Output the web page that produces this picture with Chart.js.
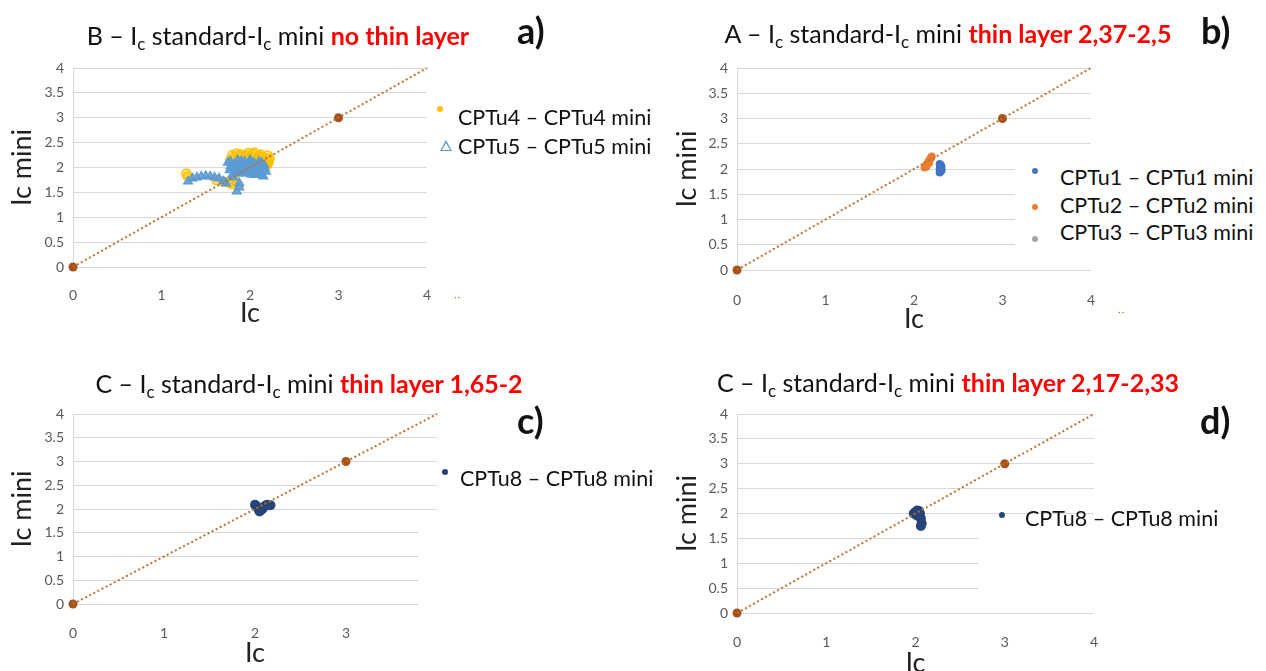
<!DOCTYPE html>
<html>
<head>
<meta charset="utf-8">
<script src="https://cdn.jsdelivr.net/npm/chart.js@4"></script>
<style>
  body { margin: 0; background: #fff; }
  #wrap { position: relative; width: 1266px; height: 671px; overflow: hidden; background: #fff; font-family: Lato, "Open Sans", sans-serif; }
  canvas { position: absolute; }
  .ttl { position: absolute; white-space: nowrap; font-size: 25px; line-height: 28px; color: #111; transform: translateX(-50%); }
  .ttl sub { font-size: 68%; line-height: 0; vertical-align: -0.3em; }
  .ttl b { color: #ff0000; }
  .tag { position: absolute; font-size: 36px; line-height: 38px; font-weight: bold; color: #111; }
  .leg { position: absolute; background: #fff; }
  .item { position: absolute; white-space: nowrap; font-size: 21.5px; line-height: 24px; color: #111; }
  .dot { position: absolute; width: 6px; height: 6px; border-radius: 50%; }
  .tri { position: absolute; width: 0; height: 0; }
  .crumb { position: absolute; font-size: 10px; color: #c0702f; letter-spacing: 1px; }
</style>
</head>
<body>
<div id="wrap">
  <canvas id="ca" width="640" height="345" style="left:0;top:0"></canvas>
  <canvas id="cb" width="626" height="345" style="left:640px;top:0"></canvas>
  <canvas id="cc" width="640" height="341" style="left:0;top:330px"></canvas>
  <canvas id="cd" width="626" height="350" style="left:640px;top:330px"></canvas>

  <div class="ttl" style="left:278px;top:21px">B – I<sub>c</sub> standard-I<sub>c</sub> mini <b>no thin layer</b></div>
  <div class="ttl" style="left:948px;top:19px">A – I<sub>c</sub> standard-I<sub>c</sub> mini <b>thin layer 2,37-2,5</b></div>
  <div class="ttl" style="left:309px;top:369px">C – I<sub>c</sub> standard-I<sub>c</sub> mini <b>thin layer 1,65-2</b></div>
  <div class="ttl" style="left:948px;top:368px">C – I<sub>c</sub> standard-I<sub>c</sub> mini <b>thin layer 2,17-2,33</b></div>

  <div class="tag" style="left:517px;top:11px">a)</div>
  <div class="tag" style="left:1201px;top:11px">b)</div>
  <div class="tag" style="left:517px;top:401px">c)</div>
  <div class="tag" style="left:1200px;top:401px">d)</div>

  <!-- legend a -->
  <div class="dot" style="left:437px;top:106px;background:#ffc000"></div>
  <div class="item" style="left:458px;top:105px">CPTu4 – CPTu4 mini</div>
  <div class="tri" style="left:440px;top:140px;border-left:6px solid transparent;border-right:6px solid transparent;border-bottom:11px solid #5b9bd5"></div>
  <div class="tri" style="left:442px;top:143px;border-left:4px solid transparent;border-right:4px solid transparent;border-bottom:7px solid #fff"></div>
  <div class="item" style="left:458px;top:134px">CPTu5 – CPTu5 mini</div>
  <div class="crumb" style="left:454px;top:290px">··</div>

  <!-- legend b -->
  <div class="leg" style="left:1015px;top:150px;width:251px;height:105px"></div>
  <div class="dot" style="left:1032px;top:168px;background:#4472c4"></div>
  <div class="item" style="left:1060px;top:165px">CPTu1 – CPTu1 mini</div>
  <div class="dot" style="left:1032px;top:204px;background:#ed7d31"></div>
  <div class="item" style="left:1060px;top:193px">CPTu2 – CPTu2 mini</div>
  <div class="dot" style="left:1032px;top:236px;background:#a5a5a5"></div>
  <div class="item" style="left:1060px;top:220px">CPTu3 – CPTu3 mini</div>
  <div class="crumb" style="left:1118px;top:305px">··</div>

  <!-- legend c -->
  <div class="leg" style="left:419px;top:520px;width:24px;height:87px"></div>
  <div class="dot" style="left:442px;top:469px;background:#264478"></div>
  <div class="item" style="left:460px;top:466px">CPTu8 – CPTu8 mini</div>

  <!-- legend d -->
  <div class="leg" style="left:979px;top:522px;width:287px;height:82px"></div>
  <div class="dot" style="left:999px;top:512px;background:#264478"></div>
  <div class="item" style="left:1025px;top:506px">CPTu8 – CPTu8 mini</div>
</div>
<script>
// diagonal trend line and its two markers
const trendX = [0, 4];
const trendY = [0, 4];
const markX = [0, 3];
const markY = [0, 3];

// a) no thin layer
const cptu4X = [1.28, 1.30, 1.62, 1.70, 1.76, 1.80, 1.83, 1.87,
  1.78, 1.80, 1.83, 1.85, 1.88, 1.90, 1.93, 1.95, 1.98, 2.00, 2.03, 2.05, 2.08, 2.10, 2.12, 2.15, 2.18, 2.20, 2.22, 2.21, 2.19, 2.16,
  1.82, 1.86, 1.92, 1.97, 2.02, 2.07, 2.13, 2.17, 2.20, 1.84, 1.96, 2.06];
const cptu4Y = [1.88, 1.82, 1.75, 1.72, 1.70, 1.67, 1.75, 1.65,
  2.15, 2.25, 2.20, 2.28, 2.22, 2.26, 2.18, 2.24, 2.29, 2.21, 2.27, 2.30, 2.19, 2.23, 2.26, 2.20, 2.15, 2.24, 2.18, 2.10, 2.05, 2.12,
  2.05, 2.10, 2.02, 2.08, 2.14, 2.06, 2.00, 2.08, 2.12, 1.98, 1.95, 2.16];
const cptu5X = [1.30, 1.35, 1.40, 1.45, 1.50, 1.55, 1.60, 1.65, 1.70, 1.73, 1.85, 1.88, 1.88,
  1.75, 1.77, 1.78, 1.80, 1.82, 1.84, 1.86, 1.88, 1.90, 1.92, 1.94, 1.96, 1.98, 2.00, 2.02, 2.04, 2.06, 2.08, 2.10, 2.12, 2.14, 2.16, 2.18,
  1.79, 1.83, 1.87, 1.91, 1.95, 1.99, 2.03, 2.07, 2.11, 2.15,
  1.81, 1.89, 1.97, 2.05, 2.13, 2.17,
  1.78, 1.85, 1.93, 2.01, 2.09, 2.14, 1.90, 2.00, 2.10];
const cptu5Y = [1.72, 1.78, 1.80, 1.82, 1.83, 1.82, 1.80, 1.78, 1.72, 1.68, 1.52, 1.60, 1.68,
  2.10, 1.95, 2.12, 1.85, 2.05, 1.90, 2.15, 1.88, 2.08, 1.95, 2.12, 2.02, 1.92, 2.15, 1.98, 2.10, 2.05, 1.95, 2.12, 2.00, 1.85, 2.05, 1.92,
  2.00, 2.08, 1.95, 2.02, 1.88, 2.10, 1.90, 1.98, 2.08, 1.82,
  1.80, 1.92, 2.05, 1.85, 2.10, 1.98,
  2.03, 1.97, 2.06, 1.86, 2.02, 1.95, 2.13, 2.04, 1.88];

// b) thin layer 2,37-2,5
const cptu1X = [2.29, 2.30, 2.31, 2.29, 2.30, 2.31, 2.30, 2.29, 2.31, 2.30];
const cptu1Y = [1.93, 1.95, 1.97, 2.00, 2.02, 2.05, 2.08, 2.10, 1.99, 1.96];
const cptu2X = [2.12, 2.13, 2.14, 2.15, 2.16, 2.17, 2.18, 2.19, 2.20, 2.14, 2.17];
const cptu2Y = [2.03, 2.06, 2.08, 2.10, 2.13, 2.16, 2.19, 2.22, 2.25, 2.05, 2.12];
const cptu3X = [];
const cptu3Y = [];

// c) thin layer 1,65-2
const cptu8cX = [2.00, 2.02, 2.04, 2.06, 2.08, 2.10, 2.12, 2.14, 2.17, 2.01, 2.05];
const cptu8cY = [2.09, 2.04, 1.99, 1.97, 2.00, 2.05, 2.08, 2.09, 2.08, 2.07, 1.95];

// d) thin layer 2,17-2,33
const cptu8dX = [1.98, 2.00, 2.02, 2.04, 2.05, 2.03, 2.06, 2.07, 2.06, 2.01];
const cptu8dY = [2.00, 2.03, 2.06, 2.05, 2.00, 1.95, 1.90, 1.80, 1.75, 1.97];

const xTickValues = [0, 1, 2, 3, 4];
const yTickValues = [0, 0.5, 1, 1.5, 2, 2.5, 3, 3.5, 4];

function pts(xs, ys) {
  return xs.map((x, i) => ({ x: x, y: ys[i] }));
}

function dots(xs, ys, color, r) {
  return {
    data: pts(xs, ys), backgroundColor: color, borderColor: color,
    pointRadius: r, borderWidth: 0, clip: false, order: 2
  };
}

function trendSets() {
  return [
    {
      type: 'line', data: pts(trendX, trendY), borderColor: '#c0702f', borderWidth: 2,
      borderDash: [2, 2.6], pointRadius: 0, fill: false, clip: false, order: 0
    },
    {
      data: pts(markX, markY), backgroundColor: '#a5521b', borderColor: '#a5521b',
      pointRadius: 4.5, borderWidth: 0, clip: false, order: 0
    }
  ];
}

const tickFont = { family: 'Lato', size: 14 };
const titleFont = { family: 'Lato', size: 27, lineHeight: 1.2 };

function makeChart(id, sets, p) {
  return new Chart(document.getElementById(id), {
    type: 'scatter',
    data: { datasets: sets.concat(trendSets()) },
    options: {
      responsive: false,
      animation: false,
      layout: { padding: p.pad },
      plugins: { legend: { display: false }, tooltip: { enabled: false } },
      scales: {
        x: {
          type: 'linear', min: 0, max: 4,
          afterBuildTicks: (s) => { s.ticks = xTickValues.map(v => ({ value: v })); },
          ticks: {
            padding: p.xPad, color: '#595959', font: tickFont,
            callback: (v) => (p.hide4 && v === 4) ? '' : String(v)
          },
          grid: { display: false },
          border: { display: false },
          title: { display: true, text: 'Ic', color: '#222', font: titleFont, padding: 0 },
          afterFit: (s) => { s.height = p.xH; }
        },
        y: {
          type: 'linear', min: 0, max: 4,
          afterBuildTicks: (s) => { s.ticks = yTickValues.map(v => ({ value: v })); },
          ticks: { padding: 9, color: '#595959', font: tickFont, callback: (v) => String(v) },
          grid: { color: '#d9d9d9', drawTicks: false },
          border: { display: true, color: '#d9d9d9' },
          title: { display: true, text: 'Ic mini', color: '#222', font: titleFont, padding: 0 },
          afterFit: (s) => { s.width = p.yW; }
        }
      }
    }
  });
}

// a)
makeChart('ca', [
  {
    data: pts(cptu5X, cptu5Y), pointStyle: 'triangle', pointRadius: 5,
    backgroundColor: 'rgba(91,155,213,0.85)', borderColor: '#5b9bd5', borderWidth: 1.3, clip: false, order: 1
  },
  {
    data: pts(cptu4X, cptu4Y), pointStyle: 'circle', pointRadius: 4.5,
    backgroundColor: 'rgba(255,192,0,0.45)', borderColor: '#ffc000', borderWidth: 1.5, clip: false, order: 2
  }
], { pad: { left: 6, top: 68, right: 213, bottom: 16 }, yW: 67, xH: 62, xPad: 12 });

// b)
makeChart('cb', [
  dots(cptu1X, cptu1Y, '#4472c4', 4),
  dots(cptu2X, cptu2Y, '#ed7d31', 4),
  dots(cptu3X, cptu3Y, '#a5a5a5', 4)
], { pad: { left: 31, top: 68, right: 175, bottom: 10 }, yW: 66, xH: 65, xPad: 14 });

// c)
makeChart('cc', [
  dots(cptu8cX, cptu8cY, '#264478', 5)
], { pad: { left: 6, top: 84, right: 203, bottom: 2 }, yW: 67, xH: 65, xPad: 13, hide4: true });

// d)
makeChart('cd', [
  dots(cptu8dX, cptu8dY, '#264478', 5)
], { pad: { left: 31, top: 84, right: 172, bottom: 1 }, yW: 66, xH: 66, xPad: 13 });
</script>
</body>
</html>
